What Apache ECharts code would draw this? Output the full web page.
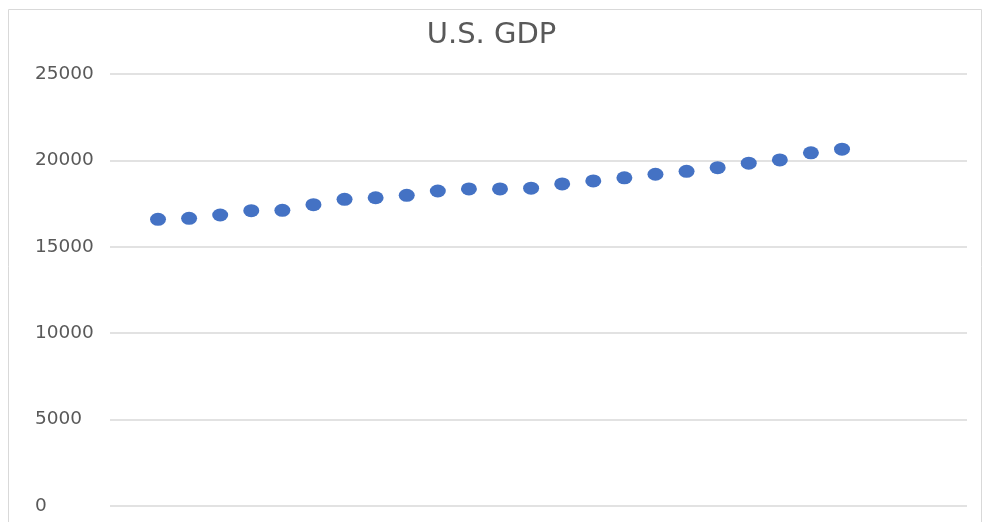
<!DOCTYPE html>
<html>
<head>
<meta charset="utf-8">
<script src="https://cdn.jsdelivr.net/npm/echarts@6/dist/echarts.min.js"></script>
<style>
  html, body { margin: 0; padding: 0; background: #fff; }
  #chart { width: 983px; height: 522px; }
</style>
</head>
<body>
<div id="chart"></div>
<script>
// quarterly U.S. GDP
var quarters = [1, 2, 3, 4, 5, 6, 7, 8, 9, 10, 11, 12, 13, 14, 15, 16, 17, 18, 19, 20, 21, 22, 23];
var gdp = [16590, 16650, 16840, 17090, 17110, 17440, 17750, 17840, 17980, 18230, 18350, 18350,
  18390, 18640, 18810, 18990, 19200, 19370, 19580, 19840, 20030, 20440, 20650];
var yTicks = [0, 5000, 10000, 15000, 20000, 25000];

var chart = echarts.init(document.getElementById('chart'));

var points = [];
for (var i = 0; i < quarters.length; i++) {
  points.push([quarters[i], gdp[i]]);
}

var option = {
  animation: false,
  graphic: [
    {
      type: 'rect',
      shape: { x: 8.5, y: 9.5, width: 973, height: 540 },
      style: { fill: 'none', stroke: '#d9d9d9', lineWidth: 1 },
      silent: true
    }
  ],
  title: {
    text: 'U.S. GDP',
    left: 'center',
    top: 16,
    textStyle: {
      fontFamily: 'DejaVu Sans',
      fontSize: 29,
      fontWeight: 'normal',
      color: '#595959'
    }
  },
  grid: { left: 110, right: 16, top: 74, bottom: 16 },
  xAxis: {
    type: 'value',
    min: -0.544,
    max: 27.02,
    show: false
  },
  yAxis: {
    type: 'value',
    min: yTicks[0],
    max: yTicks[yTicks.length - 1],
    interval: 5000,
    axisLine: { show: false },
    axisTick: { show: false },
    axisLabel: {
      align: 'left',
      margin: 75,
      padding: [5, 0, 0, 0],
      fontFamily: 'DejaVu Sans',
      fontSize: 18.5,
      color: '#595959',
      formatter: function (v) { return String(v); }
    },
    splitLine: { lineStyle: { color: '#d9d9d9', width: 1.5 } }
  },
  series: [
    {
      name: 'GDP',
      type: 'scatter',
      symbol: 'circle',
      symbolSize: [16, 13],
      itemStyle: { color: '#4472c4', opacity: 1 },
      data: points
    }
  ]
};

chart.setOption(option);
</script>
</body>
</html>
